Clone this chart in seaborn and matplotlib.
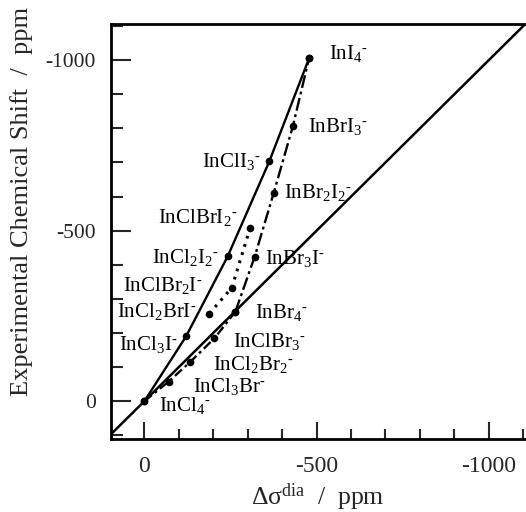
import matplotlib
matplotlib.use("Agg")
import matplotlib.pyplot as plt
import seaborn as sns
import pandas as pd
from matplotlib.ticker import MultipleLocator

sns.set_style("white")
plt.rcParams["font.family"] = ["Liberation Serif", "DejaVu Serif"]
plt.rcParams["mathtext.fontset"] = "custom"
plt.rcParams["mathtext.rm"] = "Liberation Serif"
plt.rcParams["mathtext.it"] = "Liberation Serif:italic"
plt.rcParams["mathtext.bf"] = "Liberation Serif:bold"
plt.rcParams["axes.unicode_minus"] = False

# Cl/I series: InCl4- -> InI4-
cl_i_names = ["InCl4", "InCl3I", "InCl2I2", "InClI3", "InI4"]
cl_i_dia = [0, -121, -242, -363, -478]
cl_i_exp = [0, -190, -425, -704, -1005]

# Br/I series: InBr4- -> InI4-
br_i_names = ["InBr4", "InBr3I", "InBr2I2", "InBrI3", "InI4"]
br_i_dia = [-264, -320, -375, -431, -478]
br_i_exp = [-262, -423, -609, -806, -1005]

# Cl/Br series: InCl4- -> InBr4-
cl_br_names = ["InCl4", "InCl3Br", "InCl2Br2", "InClBr3", "InBr4"]
cl_br_dia = [0, -70, -133, -203, -264]
cl_br_exp = [0, -57, -115, -184, -262]

# Mixed Cl/Br/I anions
mixed_names = ["InCl2BrI", "InClBr2I", "InClBrI2"]
mixed_dia = [-189, -254, -307]
mixed_exp = [-257, -333, -508]

CH = r"$^{\text{-}}$"
labels = {
    "InCl4": r"InCl$_4$" + CH,
    "InCl3I": r"InCl$_3$I" + CH,
    "InCl2I2": r"InCl$_2$I$_2$" + CH,
    "InClI3": r"InClI$_3$" + CH,
    "InI4": r"InI$_4$" + CH,
    "InBr4": r"InBr$_4$" + CH,
    "InBr3I": r"InBr$_3$I" + CH,
    "InBr2I2": r"InBr$_2$I$_2$" + CH,
    "InBrI3": r"InBrI$_3$" + CH,
    "InCl3Br": r"InCl$_3$Br" + CH,
    "InCl2Br2": r"InCl$_2$Br$_2$" + CH,
    "InClBr3": r"InClBr$_3$" + CH,
    "InCl2BrI": r"InCl$_2$BrI" + CH,
    "InClBr2I": r"InClBr$_2$I" + CH,
    "InClBrI2": r"InClBrI$_2$" + CH,
}

# label placement relative to the point, in pixels (dx, dy, ha)
label_offsets = {
    "InCl4": (15, -4, "left"),
    "InCl3I": (-9, -8, "right"),
    "InCl2I2": (-9, -1, "right"),
    "InClI3": (-9, 0, "right"),
    "InI4": (20, 5, "left"),
    "InBr4": (20, -1, "left"),
    "InBr3I": (10, -2, "left"),
    "InBr2I2": (10, 1, "left"),
    "InBrI3": (15, 0, "left"),
    "InCl3Br": (24, -5, "left"),
    "InCl2Br2": (23, -3, "left"),
    "InClBr3": (19, -3, "left"),
    "InCl2BrI": (-13, 2, "right"),
    "InClBr2I": (-30, 2, "right"),
    "InClBrI2": (-13, 10, "right"),
}

fig = plt.figure(figsize=(5.26, 5.12), dpi=100)
ax = fig.add_axes([111 / 526, 1 - 439 / 512, 1 - 111 / 526, (439 - 24) / 512])

# reference line: experimental shift equal to the diamagnetic term
ax.axline((0, 0), slope=1, color="black", lw=1.8, zorder=1)

series = [
    (cl_i_dia, cl_i_exp, "-", 1.7),
    (br_i_dia, br_i_exp, (0, (5.5, 1.6, 1.2, 1.6)), 1.7),
    (cl_br_dia, cl_br_exp, (0, (4, 1.6, 1.2, 1.6)), 1.7),
    (mixed_dia, mixed_exp, (0, (0.9, 1.9)), 2.2),
]
for xs, ys, ls, lw in series:
    df = pd.DataFrame({"dia": xs, "exp": ys})
    sns.lineplot(data=df, x="dia", y="exp", sort=False, estimator=None,
                 color="black", lw=lw, linestyle=ls, marker="o",
                 markersize=5.5, markeredgewidth=0, ax=ax, zorder=3)

done = set()
for names, xs, ys in [(cl_i_names, cl_i_dia, cl_i_exp),
                      (br_i_names, br_i_dia, br_i_exp),
                      (cl_br_names, cl_br_dia, cl_br_exp),
                      (mixed_names, mixed_dia, mixed_exp)]:
    for n, x, y in zip(names, xs, ys):
        if n in done:
            continue
        done.add(n)
        dx, dy, ha = label_offsets[n]
        ax.annotate(labels[n], xy=(x, y), xytext=(dx, dy),
                    textcoords="offset pixels", ha=ha, va="center",
                    fontsize=15, color="black")

ax.set_xlim(97, -1108)
ax.set_ylim(111, -1106)

ax.xaxis.set_major_locator(MultipleLocator(500))
ax.xaxis.set_minor_locator(MultipleLocator(100))
ax.yaxis.set_major_locator(MultipleLocator(500))
ax.yaxis.set_minor_locator(MultipleLocator(100))
ax.tick_params(axis="x", which="major", direction="in", length=12.5,
               width=1.5, labelsize=17, pad=12, bottom=True)
ax.tick_params(axis="x", which="minor", direction="in", length=7,
               width=1.5, bottom=True)
ax.tick_params(axis="y", which="major", direction="in", length=14.5,
               width=1.5, labelsize=15.5, pad=11, left=True)
ax.tick_params(axis="y", which="minor", direction="in", length=8.5,
               width=1.5, left=True)

for side in ["left", "bottom", "top"]:
    ax.spines[side].set_linewidth(2)
    ax.spines[side].set_color("black")
ax.spines["right"].set_visible(False)

ax.set_xlabel("")
ax.set_ylabel("")
fig.text(318 / 526, 1 - 497 / 512, r"Δσ$^{\rm dia}$  /  ppm",
         ha="center", va="center", fontsize=18.5)
fig.text(22 / 526, 1 - 201 / 512, "Experimental Chemical Shift  /  ppm",
         ha="center", va="center", rotation=90, fontsize=19)

fig.savefig("out.png", dpi=100)
